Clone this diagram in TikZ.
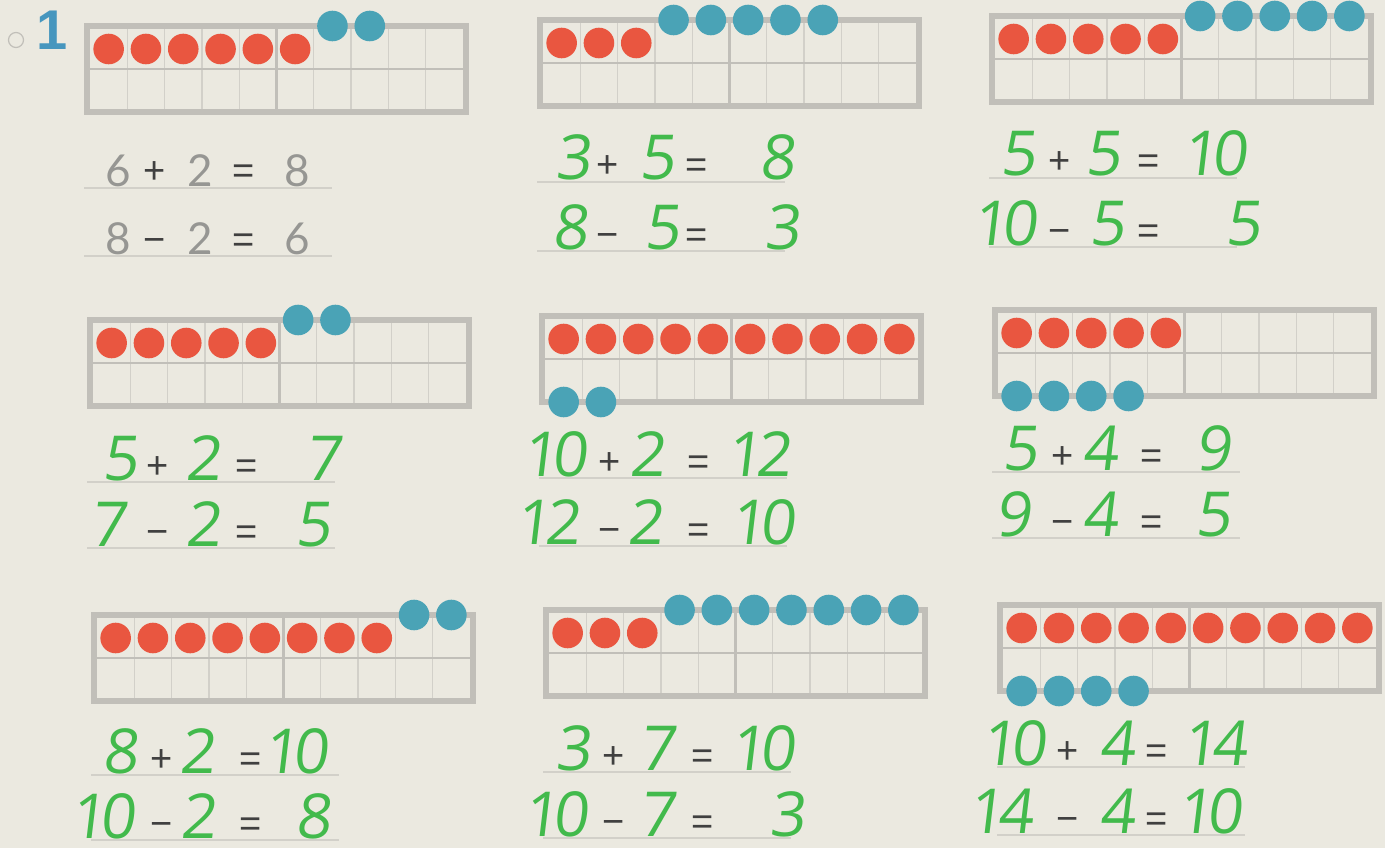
\documentclass[tikz,border=0pt]{standalone}
\usepackage{fontspec}
\setmainfont{Lato}
\newfontfamily\handfont[FakeSlant=0.12, Numbers=Proportional]{Open Sans}
\newfontfamily\operfont{Liberation Sans}
\usepackage{tikz}
\definecolor{papier}{RGB}{235,233,224}
\definecolor{rahmen}{RGB}{193,191,185}
\definecolor{gitter}{RGB}{210,208,201}
\definecolor{punktrot}{RGB}{233,86,64}
\definecolor{punktblau}{RGB}{74,163,182}
\definecolor{stift}{RGB}{66,186,76}
\definecolor{druckgrau}{RGB}{150,150,147}
\definecolor{nrblau}{RGB}{70,150,190}
\tikzset{
  rahmenlinie/.style={draw=rahmen, line width=6pt},
  gitterlinie/.style={draw=gitter, line width=1.3pt},
  mittellinie/.style={draw=rahmen, line width=2.5pt},
  schreiblinie/.style={draw=gitter, line width=1.3pt},
  rot/.style={fill=punktrot},
  blau/.style={fill=punktblau},
  schrift/.style={text=stift, font=\handfont\fontsize{62}{62}\selectfont,
                  anchor=base, inner sep=0pt},
  druck/.style={text=druckgrau, font=\fontsize{44}{44}\selectfont,
                anchor=base, inner sep=0pt},
  zeichen/.style={text=black!75, font=\operfont\fontsize{38}{38}\selectfont,
                  anchor=base, inner sep=0pt},
}

\begin{document}
\begin{tikzpicture}[x=1pt, y=-1pt]
  \fill[papier] (0,0) rectangle (1385,848);
  \useasboundingbox (0,0) rectangle (1385,848);

  % Aufgabennummer
  \node[circle, draw=rahmen, line width=1.2pt, minimum size=15pt, inner sep=0pt] (kreis) at (16,40) {};
  \node[text=nrblau, font=\operfont\bfseries\fontsize{56}{56}\selectfont, inner sep=0pt] (nummer) at (52,30) {1};

  % Zwanzigerfelder: Lage, rote Punkte, blaue Punkte von/bis, Hoehe der blauen
  \foreach \fx/\fy/\nrot/\bvon/\bbis/\by in {
      84/23/6/7/8/3, 537/17/3/4/8/3, 989/13/5/6/10/3,
      87/317/5/6/7/3, 539/313/10/1/2/89, 992/307/5/1/4/89,
      91/612/8/9/10/3, 543/607/3/4/10/3, 997/602/10/1/4/89} {
    \begin{scope}[shift={(\fx,\fy)}]
      \foreach \i in {1,...,9}
        \draw[gitterlinie] ({6+\i*37.3},6) -- ({6+\i*37.3},86);
      \draw[mittellinie] (6,46) -- (379,46);
      \draw[mittellinie] (192.5,6) -- (192.5,86);
      \draw[rahmenlinie] (3,3) rectangle (382,89);
      \foreach \i in {1,...,\nrot}
        \fill[rot] ({6+(\i-0.5)*37.3},26) circle (15.3);
      \foreach \i in {\bvon,...,\bbis}
        \fill[blau] ({6+(\i-0.5)*37.3},\by) circle (15.3);
    \end{scope}
  }

  % Rechnungen
  \foreach \fx/\fy/\dy/\st/\a/\ax/\op/\b/\bx/\c/\cx [count=\k] in {
      84/23/165/druck/6/34/+/2/116/8/213,
      84/23/233/druck/8/34/−/2/116/6/213,
      537/17/165/schrift/3/36/+/5/120/8/240,
      537/17/234/schrift/8/33/−/5/125/3/245,
      989/13/165/schrift/5/29/+/5/114/10/228,
      989/13/234/schrift/10/18/−/5/118/5/254,
      87/317/165/schrift/5/33/+/2/116/7/236,
      87/317/231/schrift/7/21/−/2/116/5/226,
      539/313/165/schrift/10/18/+/2/108/12/222,
      539/313/233/schrift/12/11/−/2/106/10/226,
      992/307/165/schrift/5/28/+/4/108/9/221,
      992/307/231/schrift/9/21/−/4/108/5/221,
      91/612/163/schrift/8/29/+/2/106/10/207,
      91/612/228/schrift/10/14/−/2/107/8/222,
      543/607/165/schrift/3/30/+/7/114/10/222,
      543/607/231/schrift/10/15/−/7/114/3/244,
      997/602/165/schrift/10/19/+/4/120/14/220,
      997/602/233/schrift/14/6/−/4/120/10/215} {
    \begin{scope}[shift={(\fx,\fy)}]
      \draw[schreiblinie] (0,\dy) -- (248,\dy);
      \node[\st] (r\k-a) at (\ax,\dy-2) {\a};
      \node[zeichen] (r\k-op) at (71,\dy-4) {\op};
      \node[\st] (r\k-b) at (\bx,\dy-2) {\b};
      \node[zeichen] (r\k-eq) at (160,\dy-4) {=};
      \node[\st] (r\k-c) at (\cx,\dy-2) {\c};
    \end{scope}
  }
\end{tikzpicture}
\end{document}
